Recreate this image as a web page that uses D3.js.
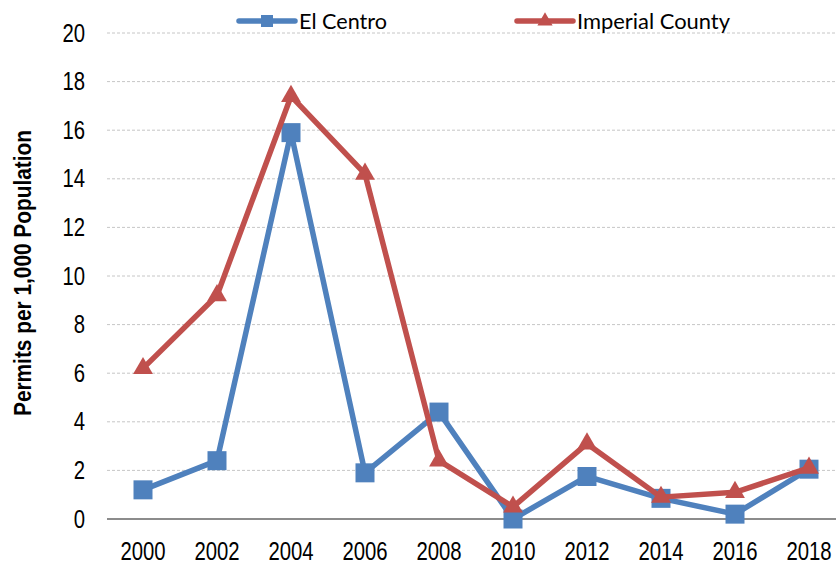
<!DOCTYPE html>
<html><head><meta charset="utf-8">
<script src="https://cdn.jsdelivr.net/npm/d3@7"></script>
<style>
html,body{margin:0;padding:0;background:#fff;}
svg{display:block;}
</style></head>
<body>
<svg id="chart" width="836" height="565"></svg>
<script>
const years = ["2000","2002","2004","2006","2008","2010","2012","2014","2016","2018"];
const elCentro = [1.2, 2.4, 15.9, 1.9, 4.4, 0.0, 1.75, 0.85, 0.2, 2.05];
const imperialCounty = [6.2, 9.2, 17.4, 14.2, 2.4, 0.5, 3.1, 0.9, 1.1, 2.1];
const yTicks = [0,2,4,6,8,10,12,14,16,18,20];
const seriesNames = ["El Centro", "Imperial County"];

(function () {
const svg = d3.select("#chart");
const W = 836, H = 565;
const mLeft = 106, mRight = 846, mTop = 33, mBottom = 519;
const blue = "#4f81bd", red = "#c0504d";
const tickFont = "'Liberation Sans Narrow','Arial Narrow','Liberation Sans',Arial,sans-serif";

const x = d3.scaleBand().domain(years).range([mLeft, mRight]).padding(0);
const y = d3.scaleLinear().domain([0, 20]).range([mBottom, mTop]);
const cx = d => x(d) + x.bandwidth() / 2;

function narrow(sel) {
  sel.attr("font-family", tickFont).attr("font-size", 25).attr("fill", "#000")
    .each(function () {
      const t = d3.select(this);
      t.attr("textLength", t.text().length * 11.3).attr("lengthAdjust", "spacingAndGlyphs");
    });
}

// gridlines
svg.append("g").selectAll("line").data(yTicks.filter(t => t > 0)).join("line")
  .attr("x1", mLeft + 1).attr("x2", W)
  .attr("y1", d => y(d)).attr("y2", d => y(d))
  .attr("stroke", "#c6c6c6").attr("stroke-width", 1).attr("stroke-dasharray", "3,2");

// y axis
const yAxis = svg.append("g").attr("transform", `translate(${mLeft},0)`)
  .call(d3.axisLeft(y).tickValues(yTicks).tickSize(0).tickPadding(21).tickFormat(d3.format("d")));
yAxis.select(".domain").remove();
yAxis.selectAll("text").call(narrow);

// x axis line
svg.append("line").attr("x1", mLeft + 1).attr("x2", W).attr("y1", y(0)).attr("y2", y(0))
  .attr("stroke", "#8c8c8c").attr("stroke-width", 2);

const xAxis = svg.append("g").attr("transform", `translate(0,${mBottom})`)
  .call(d3.axisBottom(x).tickSize(0).tickPadding(23));
xAxis.select(".domain").remove();
xAxis.selectAll("text").call(narrow);

// axis title
svg.append("text")
  .attr("transform", `translate(31,${(mTop + mBottom) / 2 - 3}) rotate(-90)`)
  .attr("text-anchor", "middle")
  .attr("font-family", tickFont).attr("font-weight", "bold").attr("font-size", 24)
  .attr("textLength", 286).attr("lengthAdjust", "spacingAndGlyphs")
  .attr("fill", "#000")
  .text("Permits per 1,000 Population");

const line = d3.line().x(d => cx(d[0])).y(d => y(d[1]));
const sq = d3.symbol().type(d3.symbolSquare).size(19 * 19);
const tri = d3.symbol().type(d3.symbolTriangle).size(170);

function drawSeries(vals, color, symbol) {
  const data = years.map((yr, i) => [yr, vals[i]]);
  svg.append("path").datum(data).attr("d", line)
    .attr("fill", "none").attr("stroke", color).attr("stroke-width", 5.5)
    .attr("stroke-linejoin", "round");
  svg.append("g").selectAll("path").data(data).join("path")
    .attr("transform", d => `translate(${cx(d[0])},${y(d[1])})`)
    .attr("d", symbol).attr("fill", color);
}
drawSeries(elCentro, blue, sq);
drawSeries(imperialCounty, red, tri);

// legend
const legendFont = "Lato,'Open Sans',sans-serif";
const leg = [
  {name: seriesNames[0], color: blue, sym: d3.symbol().type(d3.symbolSquare).size(12 * 12), x0: 239, w: 88},
  {name: seriesNames[1], color: red, sym: d3.symbol().type(d3.symbolTriangle).size(100), x0: 517, w: 153}
];
const ly = 21;
leg.forEach(l => {
  svg.append("line").attr("x1", l.x0).attr("x2", l.x0 + 56).attr("y1", ly).attr("y2", ly)
    .attr("stroke", l.color).attr("stroke-width", 5.5).attr("stroke-linecap", "round");
  svg.append("path").attr("transform", `translate(${l.x0 + 28},${ly})`).attr("d", l.sym).attr("fill", l.color);
  svg.append("text").attr("x", l.x0 + 60).attr("y", ly).attr("dy", "0.36em")
    .attr("font-family", legendFont).attr("font-size", 22).attr("fill", "#000")
    .attr("textLength", l.w).attr("lengthAdjust", "spacingAndGlyphs").text(l.name);
});
})();
</script>
</body></html>
